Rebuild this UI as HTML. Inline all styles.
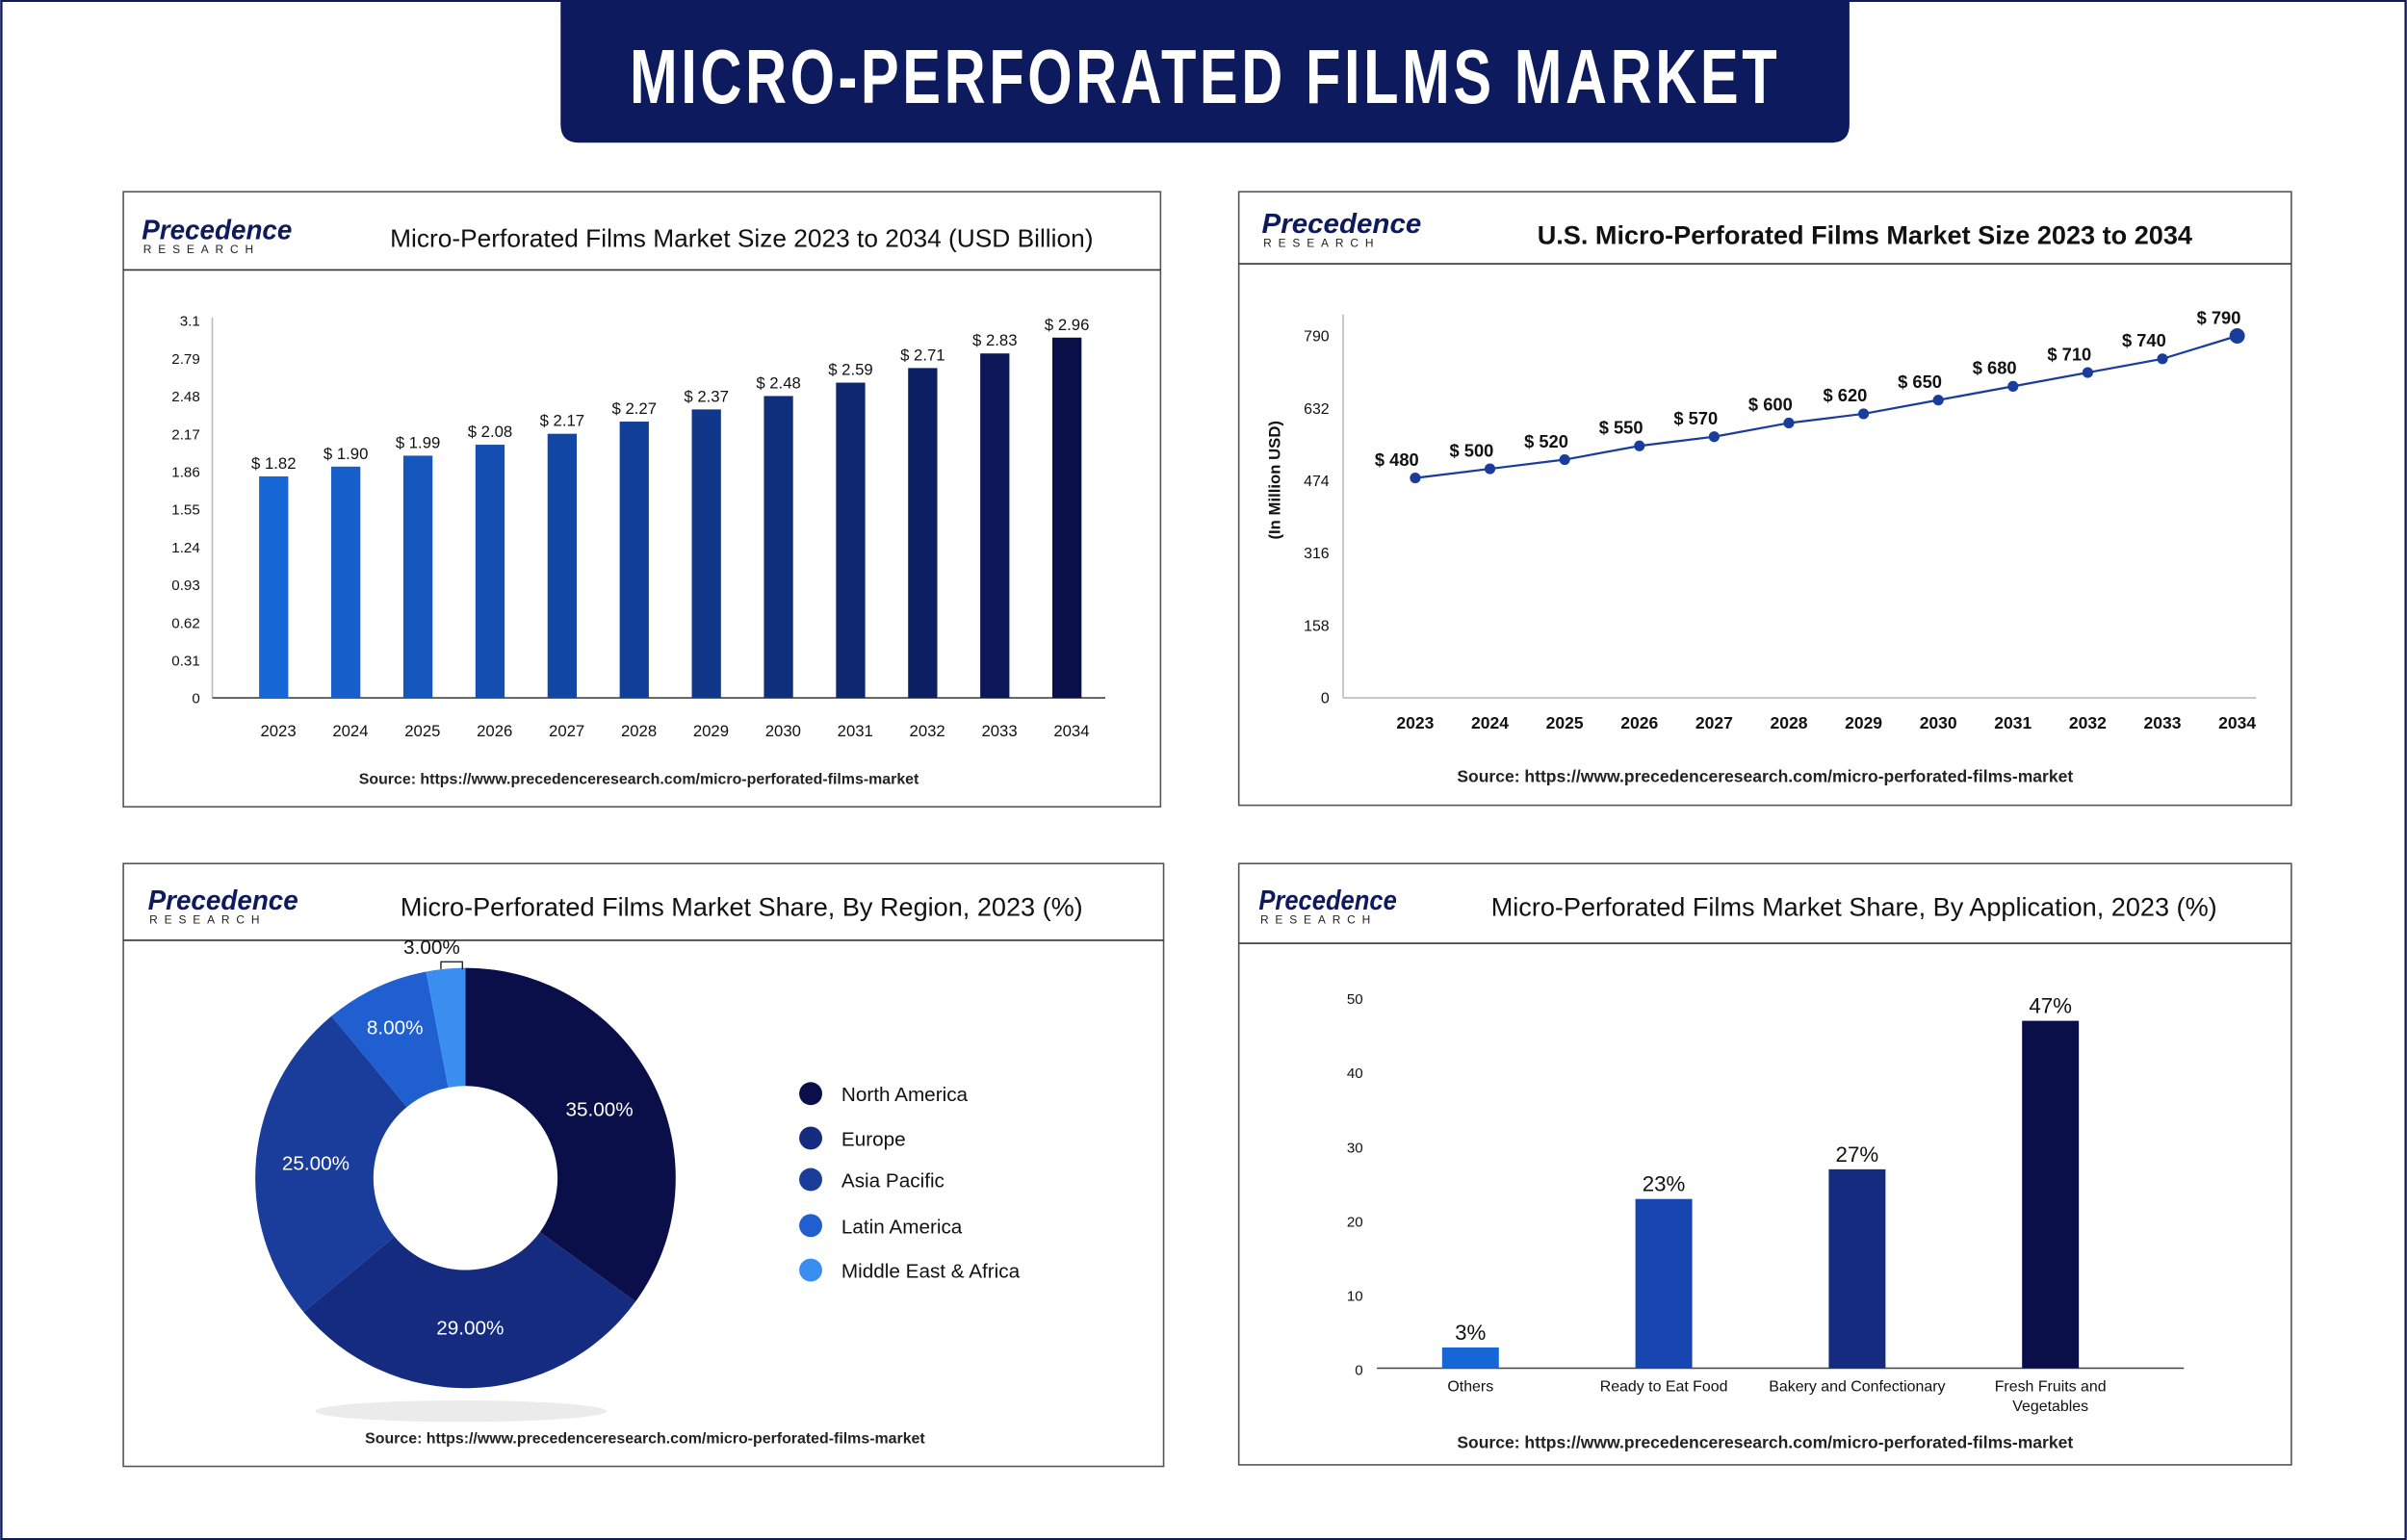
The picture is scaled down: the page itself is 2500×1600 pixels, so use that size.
<!DOCTYPE html>
<html><head><meta charset="utf-8">
<style>
html,body{margin:0;padding:0;background:#fff;}
svg{display:block;font-family:"Liberation Sans",sans-serif;}
</style></head>
<body>
<svg id="root" width="2500" height="1600" viewBox="0 0 1568 1004" xmlns="http://www.w3.org/2000/svg">
<rect x="0.5" y="0.5" width="1567" height="1003" fill="#fff" stroke="#0d1b5e" stroke-width="1.5"/>
<path d="M365 0 H1205 V81 Q1205 93 1193 93 H377 Q365 93 365 81 Z" fill="#0d1b5e"/>
<text x="785" y="67" text-anchor="middle" fill="#fff" font-size="50" font-weight="bold" letter-spacing="3" textLength="750" lengthAdjust="spacingAndGlyphs">MICRO-PERFORATED FILMS MARKET</text>

<g>
<rect x="80" y="125" width="676" height="401" fill="#fff" stroke="#555" stroke-width="1"/>
<line x1="80" y1="176" x2="756" y2="176" stroke="#333" stroke-width="1"/>
<text x="92" y="156" font-size="18" fill="#0d1b5e" font-style="italic" font-weight="bold" textLength="98" lengthAdjust="spacingAndGlyphs">Precedence</text>
<text x="93" y="165" font-size="7.5" fill="#222" letter-spacing="4.3">RESEARCH</text>
<text x="483" y="161" text-anchor="middle" font-size="16.5" fill="#111">Micro-Perforated Films Market Size 2023 to 2034 (USD Billion)</text>
<text x="416" y="511" text-anchor="middle" font-size="10" fill="#222" font-weight="bold">Source: https://www.precedenceresearch.com/micro-perforated-films-market</text>
<g id="c1"></g>
</g>

<g>
<rect x="807" y="125" width="686" height="400" fill="#fff" stroke="#555" stroke-width="1"/>
<line x1="807" y1="172" x2="1493" y2="172" stroke="#333" stroke-width="1"/>
<text x="822" y="152" font-size="18" fill="#0d1b5e" font-style="italic" font-weight="bold" textLength="104" lengthAdjust="spacingAndGlyphs">Precedence</text>
<text x="823" y="161" font-size="7.5" fill="#222" letter-spacing="4.3">RESEARCH</text>
<text x="1215" y="159" text-anchor="middle" font-size="17" font-weight="bold" fill="#111">U.S. Micro-Perforated Films Market Size 2023 to 2034</text>
<text x="1150" y="510" text-anchor="middle" font-size="11" fill="#222" font-weight="bold">Source: https://www.precedenceresearch.com/micro-perforated-films-market</text>
<text transform="translate(834,313) rotate(-90)" text-anchor="middle" font-size="10.5" font-weight="bold" fill="#111">(In Million USD)</text>
<g id="c2"></g>
</g>

<g>
<rect x="80" y="563" width="678" height="393" fill="#fff" stroke="#555" stroke-width="1"/>
<line x1="80" y1="613" x2="758" y2="613" stroke="#333" stroke-width="1"/>
<text x="96" y="593" font-size="18" fill="#0d1b5e" font-style="italic" font-weight="bold" textLength="98" lengthAdjust="spacingAndGlyphs">Precedence</text>
<text x="97" y="602" font-size="7.5" fill="#222" letter-spacing="4.3">RESEARCH</text>
<text x="483" y="597" text-anchor="middle" font-size="17" fill="#111">Micro-Perforated Films Market Share, By Region, 2023 (%)</text>
<text x="420" y="941" text-anchor="middle" font-size="10" fill="#222" font-weight="bold">Source: https://www.precedenceresearch.com/micro-perforated-films-market</text>
<g id="c3"></g>
</g>

<g>
<rect x="807" y="563" width="686" height="392" fill="#fff" stroke="#555" stroke-width="1"/>
<line x1="807" y1="615" x2="1493" y2="615" stroke="#333" stroke-width="1"/>
<text x="820" y="593" font-size="18" fill="#0d1b5e" font-style="italic" font-weight="bold" textLength="90" lengthAdjust="spacingAndGlyphs">Precedence</text>
<text x="821" y="602" font-size="7.5" fill="#222" letter-spacing="4.3">RESEARCH</text>
<text x="1208" y="597" text-anchor="middle" font-size="17" fill="#111">Micro-Perforated Films Market Share, By Application, 2023 (%)</text>
<text x="1150" y="944" text-anchor="middle" font-size="11" fill="#222" font-weight="bold">Source: https://www.precedenceresearch.com/micro-perforated-films-market</text>
<g id="c4"></g>
</g>
</svg>
<script>
const years = ["2023","2024","2025","2026","2027","2028","2029","2030","2031","2032","2033","2034"];
const globalValues = [1.82,1.90,1.99,2.08,2.17,2.27,2.37,2.48,2.59,2.71,2.83,2.96];
const globalTicks = [0,0.31,0.62,0.93,1.24,1.55,1.86,2.17,2.48,2.79,3.1];
const usValues = [480,500,520,550,570,600,620,650,680,710,740,790];
const usTicks = [0,158,316,474,632,790];
const regions = ["North America","Europe","Asia Pacific","Latin America","Middle East & Africa"];
const regionShares = [35,29,25,8,3];
const apps = ["Others","Ready to Eat Food","Bakery and Confectionary","Fresh Fruits and|Vegetables"];
const appValues = [3,23,27,47];
const appTicks = [0,10,20,30,40,50];

const NS="http://www.w3.org/2000/svg";
function mk(parent,tag,attrs,txt){const e=document.createElementNS(NS,tag);for(const k in attrs)e.setAttribute(k,attrs[k]);if(txt!==undefined)e.textContent=txt;parent.appendChild(e);return e;}
function lerpColor(a,b,t){const pa=a.match(/\w\w/g).map(h=>parseInt(h,16)),pb=b.match(/\w\w/g).map(h=>parseInt(h,16));return "rgb("+pa.map((v,i)=>Math.round(v+(pb[i]-v)*t)).join(",")+")";}

(function(){
 const g=document.getElementById('c1');
 const y=v=>455-(v/3.1)*246;
 const x=i=>178+i*47;
 mk(g,'line',{x1:138,y1:207,x2:138,y2:455,stroke:'#bbb','stroke-width':1});
 mk(g,'line',{x1:138,y1:455,x2:720,y2:455,stroke:'#444','stroke-width':1});
 globalTicks.forEach(t=>{
  const e=mk(g,'text',{x:130,y:y(t)+3.5,'text-anchor':'end','font-size':9.5,fill:'#111'},String(t));
  
  
 });
 globalValues.forEach((v,i)=>{
  const r=mk(g,'rect',{x:x(i)-9.5,y:y(v),width:19,height:455-y(v),fill:lerpColor('1766d6','0a0f4a',i/11)});
  
  
  const l=mk(g,'text',{x:x(i),y:y(v)-5,'text-anchor':'middle','font-size':10.5,fill:'#111'},'$ '+v.toFixed(2));
  
  
  const yl=mk(g,'text',{x:x(i)+3,y:480,'text-anchor':'middle','font-size':10.5,fill:'#111'},years[i]);
  
  
 });
})();

(function(){
 const g=document.getElementById('c2');
 const y=v=>455-(v/790)*236;
 const x=i=>922+i*48.7;
 mk(g,'line',{x1:875,y1:205,x2:875,y2:455,stroke:'#bbb','stroke-width':1});
 mk(g,'line',{x1:875,y1:455,x2:1470,y2:455,stroke:'#bbb','stroke-width':1});
 usTicks.forEach(t=>{
  const e=mk(g,'text',{x:866,y:y(t)+3.5,'text-anchor':'end','font-size':10,fill:'#111'},String(t));
  
  
 });
 const pts=usValues.map((v,i)=>x(i)+','+y(v)).join(' ');
 const pl=mk(g,'polyline',{points:pts,fill:'none',stroke:'#1a3d9c','stroke-width':1.4});
 
 
 usValues.forEach((v,i)=>{
  const last=i===usValues.length-1;
  const c=mk(g,'circle',{cx:x(i),cy:y(v),r:last?5:3.5,fill:'#1a3d9c'});
  
  
  const l=mk(g,'text',{x:x(i)-12,y:y(v)-8,'text-anchor':'middle','font-size':11.5,'font-weight':'bold',fill:'#111'},'$ '+v);
  
  
  const yl=mk(g,'text',{x:x(i),y:475,'text-anchor':'middle','font-size':11,'font-weight':'bold',fill:'#111'},years[i]);
  
  
 });
})();

(function(){
 const g=document.getElementById('c3');
 const cx=303,cy=768,R=137,r0=60;
 const cols=['#0a0f4a','#142b80','#1a3d9c','#1f5fd0','#3a8ef0'];
 const total=regionShares.reduce((a,b)=>a+b,0);
 mk(g,'ellipse',{cx:300,cy:920,rx:95,ry:7,fill:'#ddd',opacity:0.6});
 let a=-Math.PI/2;
 regionShares.forEach((v,i)=>{
  const da=v/total*2*Math.PI,a2=a+da,lg=da>Math.PI?1:0;
  const p=(rr,an)=>(cx+rr*Math.cos(an)).toFixed(2)+' '+(cy+rr*Math.sin(an)).toFixed(2);
  const d='M'+p(R,a)+' A'+R+' '+R+' 0 '+lg+' 1 '+p(R,a2)+' L'+p(r0,a2)+' A'+r0+' '+r0+' 0 '+lg+' 0 '+p(r0,a)+' Z';
  const s=mk(g,'path',{d:d,fill:cols[i]});
  
  
  const m=a+da/2;
  let lx,ly;
  if(v<5){lx=cx-22;ly=cy-R-9;
   mk(g,'path',{d:'M'+(cx-16)+' '+(cy-R+1)+' V'+(cy-R-4)+' H'+(cx-2)+' V'+(cy-R+1),fill:'none',stroke:'#111','stroke-width':0.8});}
  else{const rr=v<10?108:98;lx=cx+rr*Math.cos(m);ly=cy+rr*Math.sin(m)+4;}
  const t=mk(g,'text',{x:lx,y:ly,'text-anchor':'middle','font-size':13,fill:v<5?'#111':'#fff'},v.toFixed(2)+'%');
  
  
  a=a2;
  const c=mk(g,'circle',{cx:528,cy:713+[0,29,56,86,115][i],r:7.5,fill:cols[i]});
  
  
  const lt=mk(g,'text',{x:548,y:718+[0,29,56,86,115][i],'font-size':13,fill:'#111'},regions[i]);
  
  
 });
})();

(function(){
 const g=document.getElementById('c4');
 const y=v=>893-(v/50)*242;
 const x=i=>958+i*126;
 const cols=['#1766d6','#1846b0','#142b80','#0a0f4a'];
 mk(g,'line',{x1:897,y1:892,x2:1423,y2:892,stroke:'#444','stroke-width':1});
 appTicks.forEach(t=>{
  const e=mk(g,'text',{x:888,y:y(t)+3.5,'text-anchor':'end','font-size':9.5,fill:'#111'},String(t));
  
  
 });
 appValues.forEach((v,i)=>{
  const r=mk(g,'rect',{x:x(i)-18.5,y:y(v),width:37,height:892-y(v),fill:cols[i]});
  
  
  const l=mk(g,'text',{x:x(i),y:y(v)-5,'text-anchor':'middle','font-size':14,fill:'#111'},v+'%');
  
  
  apps[i].split('|').forEach((ln,k)=>{
   const c=mk(g,'text',{x:x(i),y:907+k*13,'text-anchor':'middle','font-size':10,fill:'#111'},ln);
   
   
  });
 });
})();
</script>
</body></html>
